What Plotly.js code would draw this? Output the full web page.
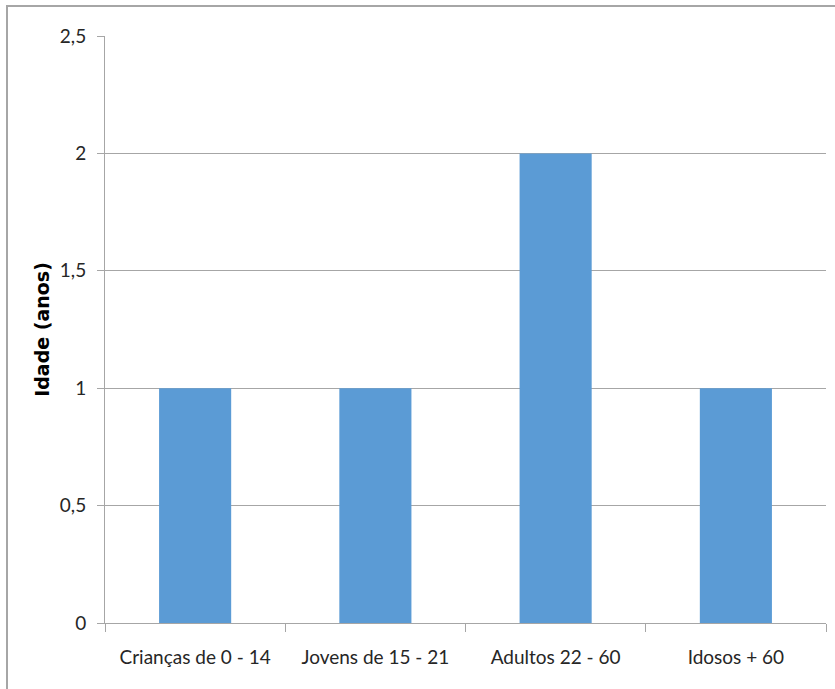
<!DOCTYPE html>
<html>
<head>
<meta charset="utf-8">
<script src="https://cdn.plot.ly/plotly-3.0.1.min.js"></script>
<style>
html,body{margin:0;padding:0;background:#fff;}
#wrap{position:relative;width:835px;height:689px;overflow:hidden;}
#chart{width:835px;height:689px;}
#frame{position:absolute;left:6px;top:5px;width:900px;height:800px;border-left:2px solid #a6a6a6;border-top:2px solid #a6a6a6;pointer-events:none;}
</style>
</head>
<body>
<div id="wrap"><div id="chart"></div><div id="frame"></div></div>
<script>
const categories = ["Crianças de 0 - 14", "Jovens de 15 - 21", "Adultos 22 - 60", "Idosos + 60"];
const values = [1, 1, 2, 1];
const yTickVals = [0, 0.5, 1, 1.5, 2, 2.5];
const yTickText = ["0", "0,5", "1", "1,5", "2", "2,5"];

const tickFont = {family: "Lato, sans-serif", size: 19, color: "#262626"};

const trace = {
  type: "bar",
  x: categories,
  y: values,
  marker: {color: "#5b9bd5"},
  hoverinfo: "x+y"
};

const layout = {
  width: 835,
  height: 689,
  margin: {l: 105, r: 9, t: 36, b: 66},
  paper_bgcolor: "#ffffff",
  plot_bgcolor: "#ffffff",
  bargap: 0.6,
  showlegend: false,
  font: tickFont,
  xaxis: {
    type: "category",
    tickson: "boundaries",
    ticks: "outside",
    ticklen: 8,
    tickcolor: "#a6a6a6",
    tickwidth: 1,
    showline: true,
    linecolor: "#a6a6a6",
    linewidth: 1,
    showgrid: false,
    tickfont: tickFont,
    ticklabelstandoff: 17,
    automargin: false
  },
  yaxis: {
    range: [0, 2.5],
    tickvals: yTickVals,
    ticktext: yTickText,
    ticks: "outside",
    ticklen: 7,
    tickcolor: "#a6a6a6",
    showline: true,
    linecolor: "#a6a6a6",
    linewidth: 1,
    showgrid: true,
    gridcolor: "#a6a6a6",
    gridwidth: 1,
    zeroline: false,
    tickfont: tickFont,
    ticklabelstandoff: 7,
    title: {text: "Idade (anos)", font: {family: "DejaVu Sans, sans-serif", size: 19, color: "#000000", weight: "bold"}, standoff: 5},
    automargin: false
  }
};

Plotly.newPlot("chart", [trace], layout, {displayModeBar: false, staticPlot: true});
</script>
</body>
</html>
